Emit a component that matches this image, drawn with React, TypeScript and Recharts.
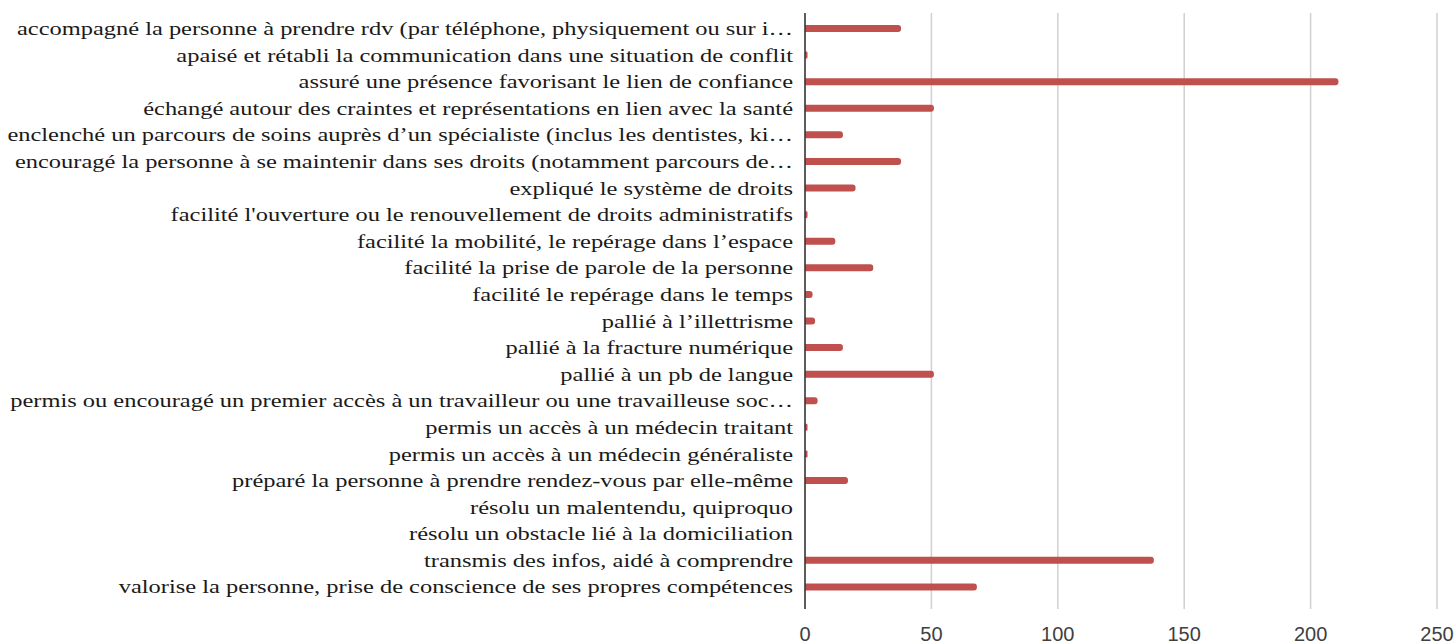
import { BarChart, Bar, XAxis, YAxis, CartesianGrid } from 'recharts';

const categories = [
  'accompagné la personne à prendre rdv (par téléphone, physiquement ou sur i…',
  'apaisé et rétabli la communication dans une situation de conflit',
  'assuré une présence favorisant le lien de confiance',
  'échangé autour des craintes et représentations en lien avec la santé',
  'enclenché un parcours de soins auprès d’un spécialiste (inclus les dentistes, ki…',
  'encouragé la personne à se maintenir dans ses droits (notamment parcours de…',
  'expliqué le système de droits',
  "facilité l'ouverture ou le renouvellement de droits administratifs",
  'facilité la mobilité, le repérage dans l’espace',
  'facilité la prise de parole de la personne',
  'facilité le repérage dans le temps',
  'pallié à l’illettrisme',
  'pallié à la fracture numérique',
  'pallié à un pb de langue',
  'permis ou encouragé un premier accès à un travailleur ou une travailleuse soc…',
  'permis un accès à un médecin traitant',
  'permis un accès à un médecin généraliste',
  'préparé la personne à prendre rendez-vous par elle-même',
  'résolu un malentendu, quiproquo',
  'résolu un obstacle lié à la domiciliation',
  'transmis des infos, aidé à comprendre',
  'valorise la personne, prise de conscience de ses propres compétences',
];

const counts = [38, 1, 211, 51, 15, 38, 20, 1, 12, 27, 3, 4, 15, 51, 5, 1, 1, 17, 0, 0, 138, 68];

const xTicks = [0, 50, 100, 150, 200, 250];

const data = categories.map((label, i) => ({ label, value: counts[i] }));

// labels in the source are rendered wider than a plain serif font
const CategoryTick = (props: any) => {
  const { x, y, payload } = props;
  return (
    <text
      transform={`translate(${x - 2},${y}) scale(1.287,1)`}
      textAnchor="end"
      dy="0.355em"
      fill="#1a1a1a"
      fontSize={19}
      fontFamily="Liberation Serif, Times New Roman, serif"
    >
      {payload.value}
    </text>
  );
};

const App = () => {
  return (
    <div style={{ position: 'fixed', left: 0, top: 0, width: 1455, height: 644, overflow: 'hidden', background: '#fff' }}>
      <BarChart
        width={1480}
        height={644}
        data={data}
        layout="vertical"
        margin={{ top: 13, right: 43, bottom: 0, left: 0 }}
        barCategoryGap={0}
      >
        <CartesianGrid horizontal={false} stroke="#d0d0d0" strokeWidth={1.5} />
        <XAxis
          type="number"
          domain={[0, 250]}
          ticks={xTicks}
          axisLine={false}
          tickLine={false}
          tickSize={0}
          tickMargin={18}
          height={35}
          tick={{ fill: '#404040', fontSize: 20, fontFamily: 'Liberation Sans, Arial, sans-serif' }}
        />
        <YAxis
          type="category"
          dataKey="label"
          width={805}
          interval={0}
          padding={{ top: 2, bottom: 9 }}
          axisLine={{ stroke: '#333', strokeWidth: 1.5 }}
          tickLine={false}
          tickSize={0}
          tickMargin={10}
          tick={<CategoryTick />}
        />
        <Bar dataKey="value" fill="#c0504d" barSize={7} radius={[0, 3, 3, 0]} isAnimationActive={false} />
      </BarChart>
    </div>
  );
};

export default App;
